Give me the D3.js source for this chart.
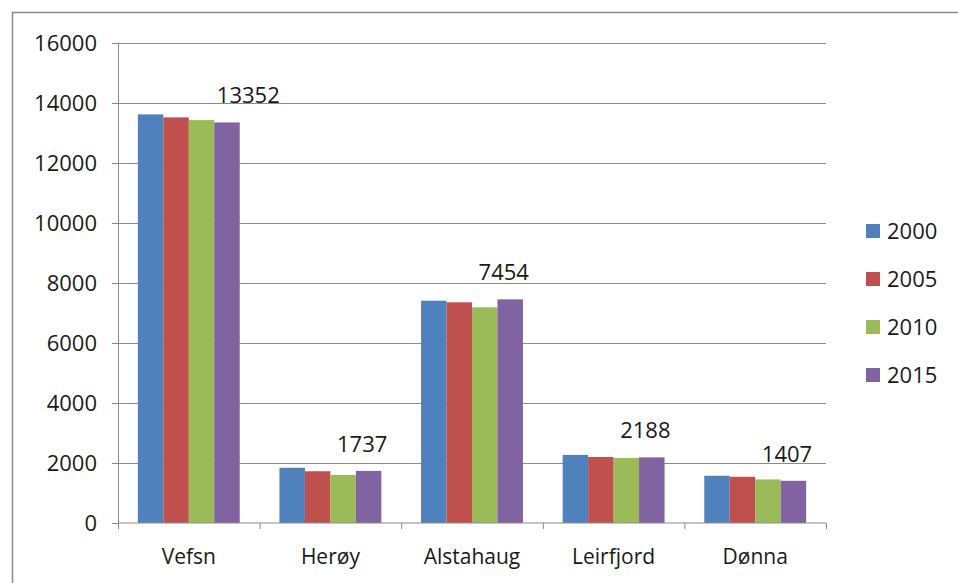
<!DOCTYPE html>
<html>
<head>
<meta charset="utf-8">
<script src="https://cdn.jsdelivr.net/npm/d3@7"></script>
<style>
  body { margin: 0; background: #fff; }
  text { font-family: "Open Sans", "Noto Sans", sans-serif; fill: #1a1a1a; }
</style>
</head>
<body>
<div id="chart"></div>
<script>
let width = 958;
let height = 583;

// Data
let kommuner = ["Vefsn", "Herøy", "Alstahaug", "Leirfjord", "Dønna"];
let years = ["2000", "2005", "2010", "2015"];
let v2000 = [13620, 1840, 7410, 2270, 1574];
let v2005 = [13520, 1725, 7357, 2200, 1540];
let v2010 = [13430, 1600, 7190, 2170, 1453];
let v2015 = [13352, 1737, 7454, 2188, 1407];
let yTicks = [0, 2000, 4000, 6000, 8000, 10000, 12000, 14000, 16000];

let series = [v2000, v2005, v2010, v2015];

let colors = d3.scaleOrdinal()
    .domain(years)
    .range(["#4f81bd", "#c0504d", "#9bbb59", "#8064a2"]);

let svg = d3.select("#chart")
    .append("svg")
    .attr("width", width)
    .attr("height", height);

// outer frame of the chart area
svg.append("rect")
    .attr("x", 12.5)
    .attr("y", 12.5)
    .attr("width", width)
    .attr("height", height)
    .attr("fill", "none")
    .attr("stroke", "#8c8c8c")
    .attr("stroke-width", 1.5);

let xScale = d3.scaleBand()
    .domain(kommuner)
    .range([118, 826]);

let xInner = d3.scaleBand()
    .domain(years)
    .range([0, xScale.bandwidth()])
    .paddingOuter(0.78);

let yScale = d3.scaleLinear()
    .domain([0, 16000])
    .range([523, 43]);

// gridlines + y axis
let yAxis = d3.axisLeft(yScale)
    .tickValues(yTicks)
    .tickFormat(d3.format("d"))
    .tickSize(6)
    .tickPadding(15);

let gy = svg.append("g")
    .attr("transform", "translate(118,0)")
    .call(yAxis);

gy.selectAll(".tick line").attr("stroke", "#8c8c8c");
gy.select(".domain").attr("stroke", "#8c8c8c").attr("d", "M0.5,43V523");
gy.selectAll(".tick text").style("font-size", "22px");

gy.selectAll(".tick")
    .filter(d => d > 0)
    .append("line")
    .attr("x1", 0)
    .attr("x2", 826 - 118)
    .attr("stroke", "#8c8c8c");

// bars
let groups = svg.selectAll(".group")
    .data(kommuner)
    .enter()
    .append("g")
    .attr("class", "group")
    .attr("transform", d => "translate(" + xScale(d) + ",0)");

groups.selectAll("rect")
    .data((k, i) => years.map((y, j) => ({year: y, value: series[j][i]})))
    .enter()
    .append("rect")
    .attr("x", d => xInner(d.year))
    .attr("width", xInner.bandwidth())
    .attr("y", d => yScale(d.value))
    .attr("height", d => yScale(0) - yScale(d.value))
    .attr("fill", d => colors(d.year));

// x axis with ticks between categories
let gx = svg.append("g")
    .attr("transform", "translate(0,523)");

gx.append("line")
    .attr("x1", 118)
    .attr("x2", 826)
    .attr("stroke", "#8c8c8c");

let bounds = kommuner.map(k => xScale(k)).concat([xScale.range()[1]]);
gx.selectAll(".sep")
    .data(bounds)
    .enter()
    .append("line")
    .attr("x1", d => d + 0.5)
    .attr("x2", d => d + 0.5)
    .attr("y1", 0)
    .attr("y2", 6)
    .attr("stroke", "#8c8c8c");

gx.selectAll(".cat")
    .data(kommuner)
    .enter()
    .append("text")
    .attr("x", d => xScale(d) + xScale.bandwidth() / 2)
    .attr("y", 41)
    .attr("text-anchor", "middle")
    .style("font-size", "21px")
    .text(d => d);

// value labels for 2015
groups.append("text")
    .attr("x", (k, i) => xInner("2015") + xInner.bandwidth() + (i === 0 ? 40 : 6))
    .attr("y", (k, i) => yScale(v2015[i]) - 19)
    .attr("text-anchor", "end")
    .style("font-size", "22px")
    .text((k, i) => v2015[i]);

// legend
let legend = svg.selectAll(".legend")
    .data(years)
    .enter()
    .append("g")
    .attr("class", "legend")
    .attr("transform", (d, i) => "translate(866," + (231 + i * 48) + ")");

legend.append("rect")
    .attr("x", 0)
    .attr("y", -7)
    .attr("width", 14)
    .attr("height", 14)
    .attr("fill", d => colors(d));

legend.append("text")
    .attr("x", 21)
    .attr("y", 0)
    .attr("dy", "0.35em")
    .style("font-size", "22px")
    .text(d => d);
</script>
</body>
</html>
